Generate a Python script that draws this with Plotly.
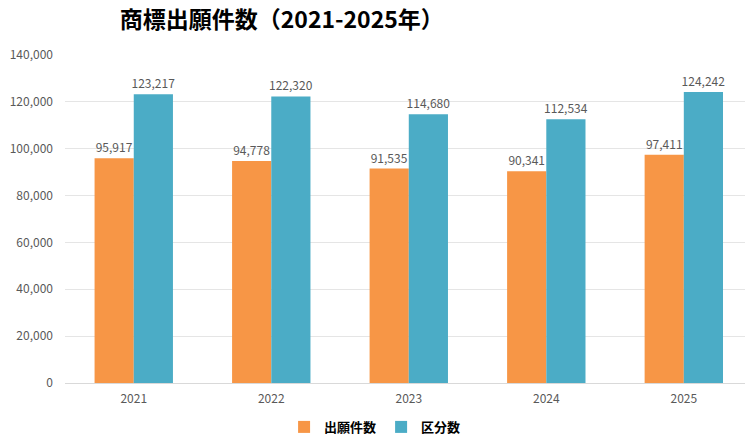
import plotly.graph_objects as go

# Data
years = ["2021", "2022", "2023", "2024", "2025"]
applications = [95917, 94778, 91535, 90341, 97411]
classes = [123217, 122320, 114680, 112534, 124242]
y_ticks = [0, 20000, 40000, 60000, 80000, 100000, 120000, 140000]

font_jp = "Noto Sans CJK JP"

fig = go.Figure()
fig.add_trace(go.Bar(
    x=years, y=applications, name="<b>出願件数</b>",
    marker=dict(color="#F79646", line=dict(width=0)),
    text=[f"{v:,}" for v in applications], textposition="outside",
    constraintext="none",
    textfont=dict(size=12, color="#595959"), cliponaxis=False,
))
fig.add_trace(go.Bar(
    x=years, y=classes, name="<b>区分数</b>",
    marker=dict(color="#4BACC6", line=dict(width=0)),
    text=[f"{v:,}" for v in classes], textposition="outside",
    constraintext="none",
    textfont=dict(size=12, color="#595959"), cliponaxis=False,
))

# page has an 8px body margin, so the figure is sized to fit inside it
fig.update_layout(
    width=738, height=428,
    paper_bgcolor="white", plot_bgcolor="white",
    font=dict(family=font_jp, color="#595959", size=12),
    title=dict(text="<b>商標出願件数（2021-2025年）</b>", x=0.371, xanchor="center",
               y=1, yanchor="top", pad=dict(t=4),
               font=dict(size=23, color="black")),
    margin=dict(l=57, r=1, t=47, b=53, autoexpand=False),
    barmode="group", bargap=0.43, bargroupgap=0,
    xaxis=dict(showgrid=False, showline=True, linecolor="#D9D9D9", linewidth=1,
               range=[-0.5, 4.445],
               tickfont=dict(size=12, color="#595959"), ticks="",
               automargin=False, ticklabelstandoff=5),
    yaxis=dict(range=[0, 140000], tickvals=y_ticks, tickformat=",",
               showgrid=True, gridcolor="#E5E5E5", zeroline=False,
               tickfont=dict(size=12, color="#595959"), ticks="",
               automargin=False, ticklabelstandoff=11),
    legend=dict(orientation="h", x=0.456, xanchor="center", y=-0.134, yanchor="middle",
                font=dict(size=13, color="black", family=font_jp)),
    showlegend=True,
)

fig.write_html("out.html")
